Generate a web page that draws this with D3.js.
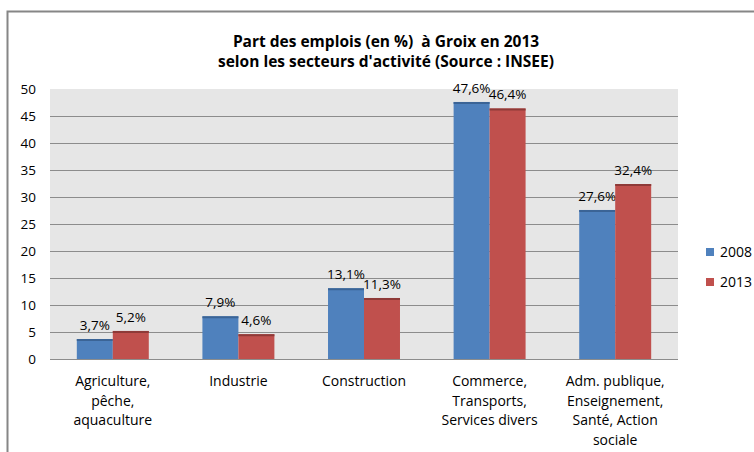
<!DOCTYPE html>
<html>
<head>
<meta charset="utf-8">
<script src="https://cdn.jsdelivr.net/npm/d3@7"></script>
<style>
  body { margin: 0; background: #fff; }
  svg { display: block; font-family: "Open Sans", Lato, sans-serif; }
  .title { white-space: pre; }
</style>
</head>
<body>
<div id="chart"></div>
<script>
// data
const categories = [
  ["Agriculture,", "pêche,", "aquaculture"],
  ["Industrie"],
  ["Construction"],
  ["Commerce,", "Transports,", "Services divers"],
  ["Adm. publique,", "Enseignement,", "Santé, Action", "sociale"]
];
const years = ["2008", "2013"];
const values2008 = [3.7, 7.9, 13.1, 47.6, 27.6];
const values2013 = [5.2, 4.6, 11.3, 46.4, 32.4];
const yTicks = [0, 5, 10, 15, 20, 25, 30, 35, 40, 45, 50];
const titleLines = ["Part des emplois (en %)  à Groix en 2013", "selon les secteurs d'activité (Source : INSEE)"];

const colors = ["#4f81bd", "#c0504d"];
const tops = ["#3b6496", "#8e3a38"];

const width = 754, height = 452;
const margin = {top: 89, left: 50, bottom: 93, right: 76};

const svg = d3.select("#chart").append("svg")
  .attr("width", width).attr("height", height);

// chart frame (only left and top edges show)
svg.append("path")
  .attr("d", "M7.5,460 V11.5 H760")
  .attr("fill", "none").attr("stroke", "#868686").attr("stroke-width", 2);

// title
svg.append("g").selectAll("text").data(titleLines).enter().append("text")
  .attr("class", "title")
  .attr("x", 386).attr("y", (d, i) => 47 + i * 20)
  .attr("text-anchor", "middle")
  .attr("font-weight", "bold").attr("font-size", 15.5).attr("fill", "#000")
  .text(d => d);

const x = d3.scaleBand()
  .domain(d3.range(categories.length))
  .range([margin.left, width - margin.right])
  .paddingInner(0.427).paddingOuter(0.2135);

const x1 = d3.scaleBand().domain(years).range([0, x.bandwidth()]);

const y = d3.scaleLinear()
  .domain([0, 50])
  .range([height - margin.bottom, margin.top]);

// plot background
svg.append("rect")
  .attr("x", margin.left).attr("y", y(50))
  .attr("width", width - margin.right - margin.left)
  .attr("height", y(0) - y(50))
  .attr("fill", "#e6e6e6");

// gridlines
svg.append("g").selectAll("line").data(yTicks.filter(t => t > 0 && t < 50)).enter().append("line")
  .attr("x1", margin.left).attr("x2", width - margin.right)
  .attr("y1", d => Math.round(y(d)) + 0.5).attr("y2", d => Math.round(y(d)) + 0.5)
  .attr("stroke", "#8c8c8c").attr("stroke-width", 1);

// y axis
const yAxis = g => g
  .attr("transform", `translate(${margin.left - 14}, 0)`)
  .call(d3.axisLeft(y).tickValues(yTicks).tickSize(0).tickPadding(0))
  .call(g => g.select(".domain").remove())
  .call(g => g.selectAll("text").attr("font-size", 13.5).attr("fill", "#000")
    .attr("font-family", "'Open Sans', sans-serif"));
svg.append("g").call(yAxis);

// baseline
svg.append("line")
  .attr("x1", margin.left).attr("x2", width - margin.right)
  .attr("y1", Math.round(y(0)) + 0.5).attr("y2", Math.round(y(0)) + 0.5)
  .attr("stroke", "#8c8c8c");

// bars
const series = [values2008, values2013];
const groups = svg.append("g").selectAll("g").data(series).enter().append("g");

groups.selectAll("rect").data((d, s) => d.map((v, i) => ({v, i, s}))).enter().append("rect")
  .attr("x", d => x(d.i) + x1(years[d.s]))
  .attr("y", d => y(d.v))
  .attr("width", x1.bandwidth())
  .attr("height", d => y(0) - y(d.v))
  .attr("fill", d => colors[d.s]);

groups.selectAll("line").data((d, s) => d.map((v, i) => ({v, i, s}))).enter().append("line")
  .attr("x1", d => x(d.i) + x1(years[d.s]))
  .attr("x2", d => x(d.i) + x1(years[d.s]) + x1.bandwidth())
  .attr("y1", d => y(d.v) + 1).attr("y2", d => y(d.v) + 1)
  .attr("stroke", d => tops[d.s]).attr("stroke-width", 2);

// value labels
groups.selectAll("text").data((d, s) => d.map((v, i) => ({v, i, s}))).enter().append("text")
  .attr("x", d => x(d.i) + x1(years[d.s]) + x1.bandwidth() / 2)
  .attr("y", d => y(d.v) - 9)
  .attr("text-anchor", "middle")
  .attr("font-size", 13.5).attr("fill", "#000")
  .text(d => d.v.toFixed(1).replace(".", ",") + "%");

// category labels
const cat = svg.append("g").selectAll("text").data(categories).enter().append("text")
  .attr("x", (d, i) => x(i) + x.bandwidth() / 2)
  .attr("y", 386)
  .attr("text-anchor", "middle")
  .attr("font-size", 14).attr("fill", "#000");
cat.selectAll("tspan").data(d => d).enter().append("tspan")
  .attr("x", function() { return d3.select(this.parentNode).attr("x"); })
  .attr("dy", (d, i) => i === 0 ? 0 : 19.5)
  .text(d => d);

// legend
const legend = svg.append("g").selectAll("g").data(years).enter().append("g")
  .attr("transform", (d, i) => `translate(706, ${248 + i * 30})`);
legend.append("rect")
  .attr("width", 8).attr("height", 8)
  .attr("fill", (d, i) => colors[i]);
legend.append("text")
  .attr("x", 14).attr("y", 9)
  .attr("font-size", 14).attr("fill", "#000")
  .text(d => d);
</script>
</body>
</html>
